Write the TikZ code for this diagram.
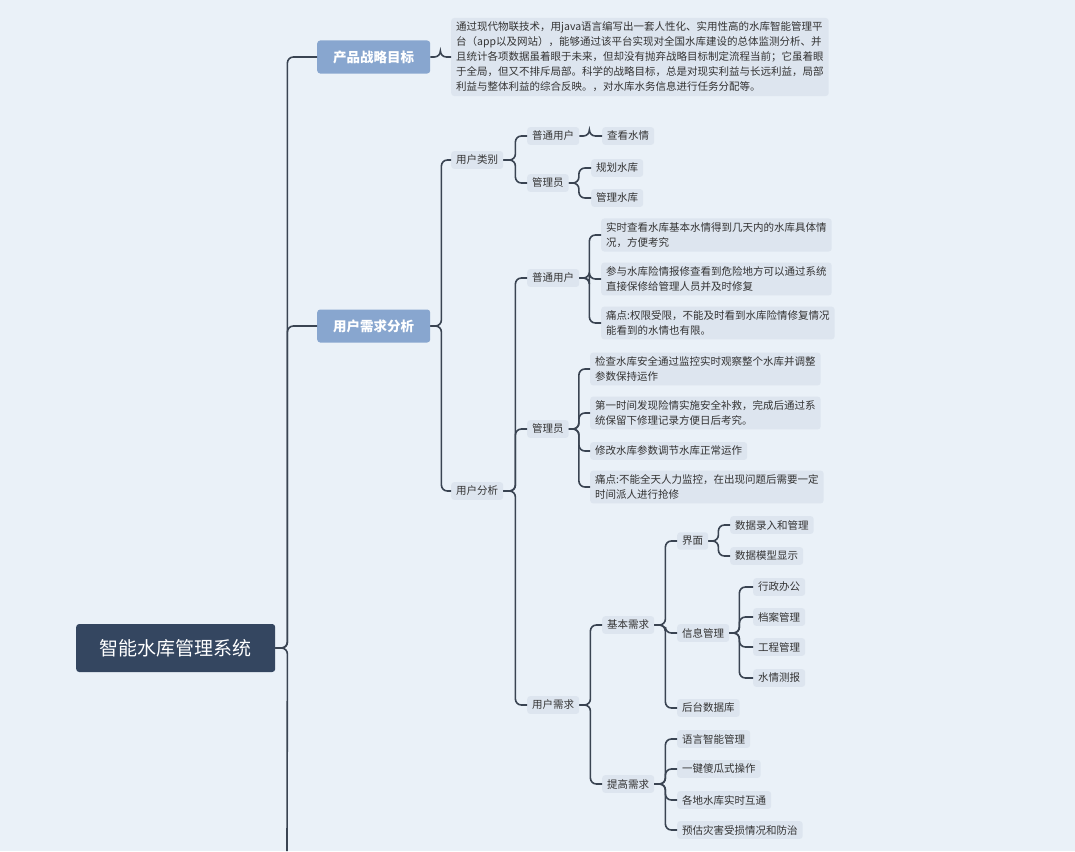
\documentclass[tikz,border=0pt]{standalone}
\usepackage{fontspec}
\newfontfamily\cjk{Noto Sans CJK SC}
\usetikzlibrary{positioning}
\definecolor{bgc}{HTML}{EAF1F8}
\definecolor{linec}{HTML}{3A4452}
\definecolor{rootc}{HTML}{344660}
\definecolor{mainc}{HTML}{88A6CF}
\definecolor{leafc}{HTML}{DDE5EF}
\newcommand\branch[3][10]{\draw[conn] (#2.east) -- ++(#1,0) |- (#3.west);}
\begin{document}
\begin{tikzpicture}[x=1pt,y=-1pt,
every node/.style = {font=\cjk\fontsize{10.5}{15}\selectfont, text=black!80, anchor=west},
rootbox/.style = {fill=rootc, rounded corners=3, text=white, font=\cjk\fontsize{19}{22}\selectfont,
	minimum width=199, minimum height=48},
mainbox/.style = {fill=mainc, rounded corners=3, text=white, font=\cjk\bfseries\fontsize{13.5}{16}\selectfont,
	minimum width=113, minimum height=33},
leafbox/.style = {fill=leafc, rounded corners=3, inner xsep=5, inner ysep=4, align=left},
conn/.style = {draw=linec, line width=1.6pt, rounded corners=6}]
\fill[bgc] (0,0) rectangle (1075,851);
\useasboundingbox (0,0) rectangle (1075,851);
% root and first level
\node[rootbox] (root) at (76,648) {智能水库管理系统};
\node[mainbox] (goal) at (317,57) {产品战略目标};
\node[mainbox] (need) at (317,326) {用户需求分析};
\draw[conn] (root.east) -- ++(12,0) -- (287,851);
\branch[12]{root}{goal}
\branch[12]{root}{need}
\node[leafbox] (goaltext) at (451,57) {通过现代物联技术，用java语言编写出一套人性化、实用性高的水库智能管理平\\台（app以及网站），能够通过该平台实现对全国水库建设的总体监测分析、并\\且统计各项数据虽着眼于未来，但却没有抛弃战略目标制定流程当前；它虽着眼\\于全局，但又不排斥局部。科学的战略目标，总是对现实利益与长远利益，局部\\利益与整体利益的综合反映。，对水库水务信息进行任务分配等。};
\branch{goal}{goaltext}
% user kinds
\node[leafbox] (kind) at (451,160) {用户类别};
\node[leafbox] (analysis) at (451,491) {用户分析};
\branch[11]{need}{kind}
\branch[11]{need}{analysis}
\node[leafbox] (kuser) at (527,136) {普通用户};
\node[leafbox] (kadmin) at (527,183) {管理员};
\branch[12]{kind}{kuser}
\branch[12]{kind}{kadmin}
\node[leafbox] (look) at (602,136) {查看水情};
\branch{kuser}{look}
\node[leafbox] (plan) at (591,168) {规划水库};
\node[leafbox] (manage) at (591,198) {管理水库};
\branch{kadmin}{plan}
\branch{kadmin}{manage}
% user analysis
\node[leafbox] (auser) at (527,278) {普通用户};
\node[leafbox] (aadmin) at (527,429) {管理员};
\node[leafbox] (aneed) at (527,705) {用户需求};
\branch[12]{analysis}{auser}
\branch[12]{analysis}{aadmin}
\branch[12]{analysis}{aneed}
\node[leafbox] (u1) at (601,235) {实时查看水库基本水情得到几天内的水库具体情\\况，方便考究};
\node[leafbox] (u2) at (601,279) {参与水库险情报修查看到危险地方可以通过系统\\直接保修给管理人员并及时修复};
\node[leafbox] (u3) at (601,323) {痛点:权限受限，不能及时看到水库险情修复情况\\能看到的水情也有限。};
\foreach \n in {u1,u2,u3} {\branch{auser}{\n}}
\node[leafbox] (m1) at (590,369) {检查水库安全通过监控实时观察整个水库并调整\\参数保持运作};
\node[leafbox] (m2) at (590,413) {第一时间发现险情实施安全补救，完成后通过系\\统保留下修理记录方便日后考究。};
\node[leafbox] (m3) at (590,451) {修改水库参数调节水库正常运作};
\node[leafbox] (m4) at (590,487) {痛点:不能全天人力监控，在出现问题后需要一定\\时间派人进行抢修};
\foreach \n in {m1,m2,m3,m4} {\branch{aadmin}{\n}}
% needs
\node[leafbox] (basic) at (602,625) {基本需求};
\node[leafbox] (better) at (602,784) {提高需求};
\branch[11]{aneed}{basic}
\branch[11]{aneed}{better}
\node[leafbox] (ui) at (677,541) {界面};
\node[leafbox] (info) at (677,633) {信息管理};
\node[leafbox] (db) at (677,708) {后台数据库};
\foreach \n in {ui,info,db} {\branch[11]{basic}{\n}}
\node[leafbox] (ui1) at (730,525) {数据录入和管理};
\node[leafbox] (ui2) at (730,556) {数据模型显示};
\branch{ui}{ui1}
\branch{ui}{ui2}
\node[leafbox] (i1) at (753,587) {行政办公};
\node[leafbox] (i2) at (753,617) {档案管理};
\node[leafbox] (i3) at (753,647) {工程管理};
\node[leafbox] (i4) at (753,678) {水情测报};
\foreach \n in {i1,i2,i3,i4} {\branch{info}{\n}}
\node[leafbox] (b1) at (677,739) {语言智能管理};
\node[leafbox] (b2) at (677,769) {一键傻瓜式操作};
\node[leafbox] (b3) at (677,800) {各地水库实时互通};
\node[leafbox] (b4) at (677,830) {预估灾害受损情况和防治};
\foreach \n in {b1,b2,b3,b4} {\branch[11]{better}{\n}}
\end{tikzpicture}
\end{document}
